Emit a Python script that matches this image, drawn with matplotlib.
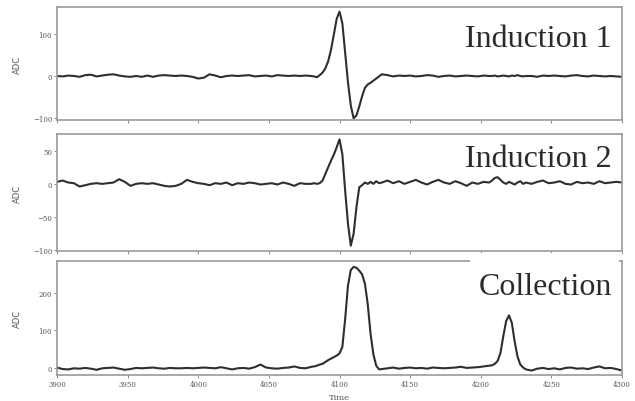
import numpy as np
import matplotlib
matplotlib.use("Agg")
import matplotlib.pyplot as plt
from matplotlib.patches import Rectangle

# Time grid (coarse on baseline, finer around the pulses)
time = np.r_[np.arange(3900, 4081, 4), np.arange(4082, 4131, 2),
             np.arange(4134, 4207, 4), np.arange(4208, 4233, 2),
             np.arange(4236, 4301, 4)]

induction1 = [
    0, -1, 1, 0, -2, 2, 3, -1, 1, 3, 4, 1, -1, -2, 0, -2, 1, -2, 1, 2, 1, 0, 1, 0, -2, -6,
    -4, 4, 1, -3, 0, 1, 0, 1, 2, -1, 0, 1, -1, 2, 1, 0, 1, 0, 1, 0,
    -1, -3, 2, 8, 18, 35, 62, 98, 135, 152, 125, 55, -15, -70, -100, -93, -72, -48, -28,
    -20, -16, -11, -6, -1, 4,
    2, -1, 1, 0, 1, -1, 0, 2, 1, -2, 0, 1, -1, 0, 1, 0, -1, 1, 0,
    0, 1, -1, 0, 1, 0, -1, 1, 0, 2, 0, -1, 0,
    0, -2, 1, 0, 1, 0, -1, 1, 2, 0, -1, 1, 0, -1, 0, -1, -2,
]

induction2 = [
    3, 5, 2, 1, -4, -2, 0, 1, 0, 1, 2, 7, 3, -3, 0, 1, 0, 1, -1, -3, -4, -3, 0, 6, 3, 1,
    0, -2, 1, 0, 2, -2, 1, 0, 2, 1, -1, 0, 1, -1, 2, 0, -3, 1, 0, 0,
    1, 0, 1, 5, 15, 25, 35, 44, 55, 67, 45, -10, -60, -93, -75, -35, -5, -2, 2, 0, 3, 0,
    4, 1, 2,
    5, 1, 4, 0, 3, 6, 2, -1, 3, 6, 2, 0, 4, 1, -3, 2, 0, 3, 2,
    5, 9, 10, 6, 2, 0, 3, 1, -1, 2, 4, 0, 2,
    0, 3, 5, 1, 2, 4, 0, -1, 3, 1, 2, 0, 4, 1, 2, 3, 2,
]

collection = [
    0, -4, -5, -2, -3, -1, -3, -6, -2, -1, 0, -3, -6, -4, -1, -2, -1, 0, -2, -3, -1, -2,
    -2, -1, -2, -1, 0, -1, -2, 1, -2, -5, -2, -1, -3, 1, 8, 0, -2, -3, -1, 0, 3, -1, -2, 2,
    3, 5, 8, 10, 15, 20, 24, 28, 32, 38, 55, 130, 220, 262, 270, 268, 260, 250, 225, 170,
    90, 35, 5, -5, -4,
    -2, 0, -3, -1, 0, -2, -1, -3, 0, -1, -2, -1, 0, 2, -1, 0, 1, 3, 5,
    6, 10, 18, 40, 85, 125, 140, 120, 70, 30, 8, 0, -5,
    -8, -3, -1, -4, -2, -5, -1, 0, -3, -2, -4, 0, 3, -2, -1, -4, -8,
]

labels = ["Induction 1", "Induction 2", "Collection"]
series = [induction1, induction2, collection]
ylims = [(-104, 163), (-101, 75), (-20, 286)]
yticks = [[-100, 0, 100], [-100, -50, 0, 50], [0, 100, 200]]
xticks = [3900, 3950, 4000, 4050, 4100, 4150, 4200, 4250, 4300]

W, H = 635, 402
fig = plt.figure(figsize=(W / 100, H / 100), dpi=100)
left, right = 57, 622
panels = [(8, 121), (135, 252), (262, 376)]
label_base = [0.655, 0.726, 0.711]

spine_c = "#9a9a9a"

for i, ((top, bot), lab, vals) in enumerate(zip(panels, labels, series)):
    ax = fig.add_axes([left / W, 1 - bot / H, (right - left) / W, (bot - top) / H])
    ax.plot(time, vals, color="#2e2e2e", lw=1.5, solid_joinstyle="round")
    ax.set_xlim(3900, 4300)
    ax.set_ylim(*ylims[i])
    ax.set_yticks(yticks[i])
    ax.set_xticks(xticks)
    for s in ax.spines.values():
        s.set_color(spine_c)
        s.set_linewidth(1.2)
    ax.tick_params(length=2, width=0.6, color="#777777", pad=1.5)
    for t in ax.get_yticklabels():
        t.set_fontfamily("DejaVu Serif"); t.set_fontsize(5); t.set_color("#555555")
    if i < 2:
        ax.set_xticklabels([])
    else:
        for t in ax.get_xticklabels():
            t.set_fontfamily("DejaVu Serif"); t.set_fontsize(5); t.set_color("#555555")
        ax.set_xlabel("Time", fontfamily="DejaVu Serif", fontsize=6, color="#555555", labelpad=4)
    ax.set_ylabel("ADC", fontfamily="DejaVu Sans", fontsize=6, color="#555555", labelpad=2)
    ax.yaxis.set_label_coords(-0.062, 0.5)
    ax.text(0.982, label_base[i], lab, transform=ax.transAxes, ha="right", va="baseline",
            fontfamily="Liberation Serif", fontsize=23, color="#2b2b2b",
            zorder=5, clip_on=False)

# white patch over the top frame behind the "Collection" label
fig.add_artist(Rectangle((470 / W, 1 - 268 / H), (619 - 470) / W, 14 / H,
                         transform=fig.transFigure, facecolor="white",
                         edgecolor="none", zorder=10))

fig.savefig("out.png", dpi=100)
